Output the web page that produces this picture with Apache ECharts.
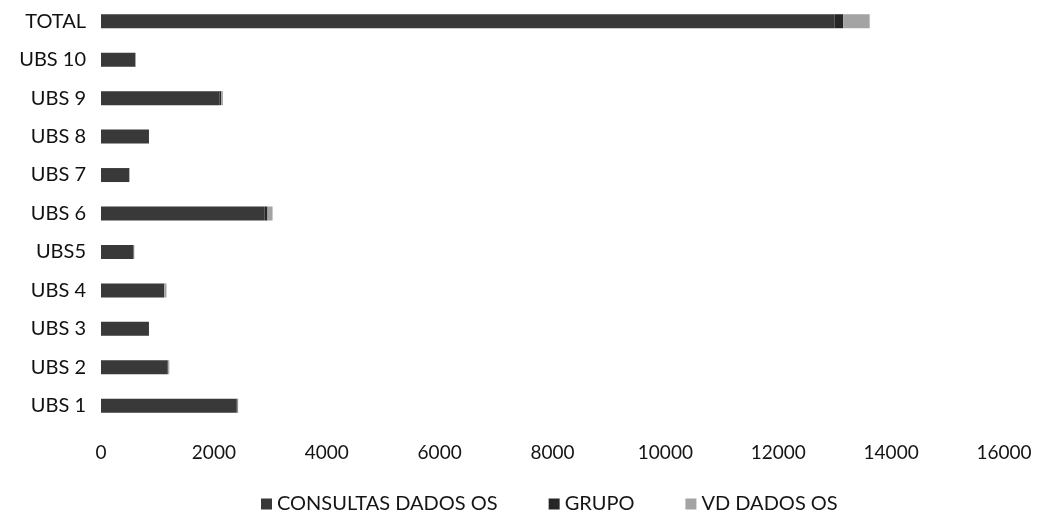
<!DOCTYPE html>
<html>
<head>
<meta charset="utf-8">
<script src="https://cdn.jsdelivr.net/npm/echarts@6/dist/echarts.min.js"></script>
<style>html,body{margin:0;padding:0;background:#fff}#c{width:1045px;height:520px}</style>
</head>
<body>
<div id="c"></div>
<script>
var categories = ['UBS 1', 'UBS 2', 'UBS 3', 'UBS 4', 'UBS5', 'UBS 6', 'UBS 7', 'UBS 8', 'UBS 9', 'UBS 10', 'TOTAL'];
var consultas = [2400, 1180, 850, 1100, 580, 2900, 500, 850, 2100, 610, 13000];
var grupo =     [20, 10, 0, 20, 0, 50, 0, 0, 30, 0, 150];
var vd =        [10, 20, 0, 40, 10, 90, 10, 0, 30, 10, 470];
var xTicks = [0, 2000, 4000, 6000, 8000, 10000, 12000, 14000, 16000];
var seriesNames = ['CONSULTAS DADOS OS', 'GRUPO', 'VD DADOS OS'];

var font = 'Lato, "Open Sans", sans-serif';
var chart = echarts.init(document.getElementById('c'));
chart.setOption({
  animation: false,
  backgroundColor: '#ffffff',
  textStyle: { fontFamily: font },
  legend: {
    bottom: 1,
    left: 256,
    itemWidth: 11,
    itemHeight: 11,
    itemGap: 51,
    icon: 'rect',
    textStyle: { fontSize: 20, color: '#151515', fontFamily: font },
    data: seriesNames
  },
  grid: { left: 101, right: 41, top: 2, bottom: 95, containLabel: false },
  xAxis: {
    type: 'value',
    min: xTicks[0],
    max: xTicks[xTicks.length - 1],
    interval: 2000,
    axisLine: { show: false },
    axisTick: { show: false },
    splitLine: { show: false },
    axisLabel: { fontSize: 19, color: '#151515', margin: 18, fontFamily: font,
      formatter: function (v) { return String(v); } }
  },
  yAxis: {
    type: 'category',
    data: categories,
    axisLine: { show: false },
    axisTick: { show: false },
    axisLabel: { fontSize: 20, color: '#111', margin: 15, fontFamily: font }
  },
  series: [
    { name: seriesNames[0], type: 'bar', stack: 's', barWidth: 14, data: consultas, itemStyle: { color: '#393939' } },
    { name: seriesNames[1], type: 'bar', stack: 's', barWidth: 14, data: grupo, itemStyle: { color: '#262626' } },
    { name: seriesNames[2], type: 'bar', stack: 's', barWidth: 14, data: vd, itemStyle: { color: '#a3a3a3' } }
  ]
});
</script>
</body>
</html>
